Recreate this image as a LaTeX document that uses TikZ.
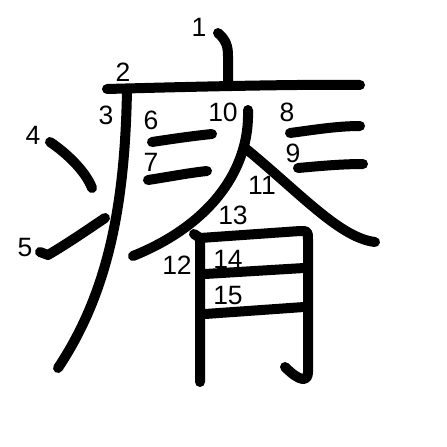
\documentclass[tikz,border=0pt]{standalone}
\usepackage{fontspec}
\setmainfont{Liberation Sans}
\usepackage{xcolor}
\definecolor{inkblack}{HTML}{000000}

\begin{document}
\begin{tikzpicture}[x=1pt,y=-1pt,
  brush/.style={inkblack,line width=10pt,line cap=round,line join=round},
  num/.style={inkblack,inner sep=0pt,font=\fontsize{26.5}{30}\selectfont}]
  \useasboundingbox[fill=white] (0,0) rectangle (447,447);
  % strokes
  \draw[brush] (218,33) .. controls (226,40) and (228,46) .. (228,56) -- (228,84);
  \draw[brush] (107,89) .. controls (180,87) and (300,84) .. (360,85);
  \draw[brush] (127,90) .. controls (125,200) and (110,290) .. (58,368);
  \draw[brush] (50,142) .. controls (65,152) and (85,170) .. (92,188);
  \draw[brush] (40,252) -- (48,255) .. controls (70,242) and (90,228) .. (105,218);
  \draw[brush] (152,142) .. controls (172,139) and (192,136) .. (212,134);
  \draw[brush] (148,180) .. controls (168,177) and (188,173) .. (207,171);
  \draw[brush] (290,133) .. controls (313,130) and (337,126) .. (360,126);
  \draw[brush] (298,168) .. controls (320,166) and (342,164) .. (363,164);
  \draw[brush] (248,110) .. controls (250,170) and (210,225) .. (133,256);
  \draw[brush] (245,148) .. controls (300,193) and (340,238) .. (375,242);
  \draw[brush] (194,234) -- (200,238) -- (200,382);
  \draw[brush] (200,238) -- (300,231) .. controls (308,231) .. (308,240)
    -- (308,372) .. controls (308,382) and (300,382) .. (285,367);
  \draw[brush] (205,274) -- (304,268);
  \draw[brush] (205,314) -- (304,307);
  % stroke numbers
  \node[num] (n1) at (199,27) {1};
  \node[num] (n2) at (123,72) {2};
  \node[num] (n3) at (106,115) {3};
  \node[num] (n4) at (33,135) {4};
  \node[num] (n5) at (25,248) {5};
  \node[num] (n6) at (151,120) {6};
  \node[num] (n7) at (151,162) {7};
  \node[num] (n8) at (287,112) {8};
  \node[num] (n9) at (293,153) {9};
  \node[num] (n10) at (223,112) {10};
  \node[num] (n11) at (262,185) {11};
  \node[num] (n12) at (177,265) {12};
  \node[num] (n13) at (233,215) {13};
  \node[num] (n14) at (228,259) {14};
  \node[num] (n15) at (228,296) {15};
\end{tikzpicture}
\end{document}
